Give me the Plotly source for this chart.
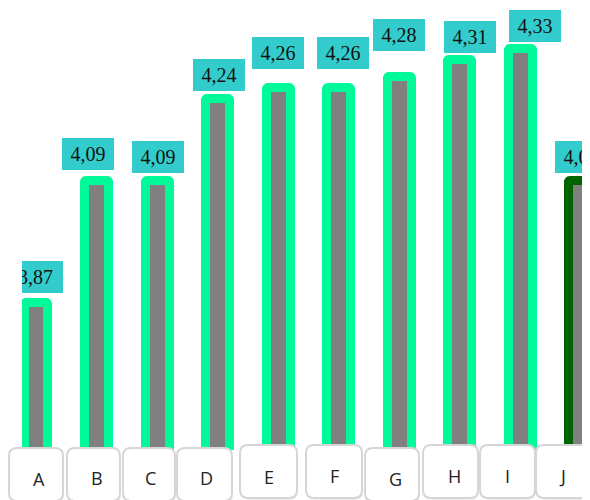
import plotly.graph_objects as go

# ---- data ----
categories = ["A", "B", "C", "D", "E", "F", "G", "H", "I", "J"]
values = [3.87, 4.09, 4.09, 4.24, 4.26, 4.26, 4.28, 4.31, 4.33, 4.09]

# ---- styles ----
W, H = 590, 500
OFF = 8                     # page body margin compensation
PLOT_L, PLOT_T, PLOT_B = 22, 8, 450   # plot area in reference pixels
ML = PLOT_L - OFF
MT = PLOT_T - OFF
PH = PLOT_B - PLOT_T
MB = H - MT - PH
PW = W - ML
border_colors = ["#00fa9a"] * 9 + ["#006400"]
# value label offsets (px): horizontal shift and gap above bar
label_dx = [6, -9.5, 0.5, 0.5, -0.5, 3.5, -0.5, 10, 14, 0]
label_gap = [5, 7, 4, 3, 14, 14, 21, 3, 3, 4]
label_w = [41, 52, 52, 52, 52, 52, 52, 52, 52, 52]
# category boxes (reference px): left, right, top
cat_boxes = [(9, 63, 448), (67, 120, 448), (123, 175, 448), (177, 232, 448),
             (240, 297, 445), (306, 362, 445), (365, 419, 448), (423, 478, 445),
             (480, 535, 445), (536, 589, 445)]
letter_dx = [2, -0.5, -7, -11.5, -10, -5, -4.5, -5.5, -13.5, -19]
letter_y = [478.5, 478, 478, 478, 477, 476, 478.5, 476, 476, 476]

PX_PER_CAT = 60.55
FIRST_CENTER = 36.5
x0 = -(FIRST_CENTER - PLOT_L) / PX_PER_CAT
x1 = x0 + PW / PX_PER_CAT
PX_PER_UNIT = 551.0
y_top_val = 4.419 - PLOT_T / PX_PER_UNIT
y_bot_val = 4.419 - PLOT_B / PX_PER_UNIT


def fx(px):
    return (px - PLOT_L) / PW


def fy(py):
    return (PLOT_B - py) / PH


def rounded(l, r, t, b, rad):
    pts = [
        f"M{fx(l + rad)},{fy(t)}", f"L{fx(r - rad)},{fy(t)}",
        f"Q{fx(r)},{fy(t)} {fx(r)},{fy(t + rad)}", f"L{fx(r)},{fy(b - rad)}",
        f"Q{fx(r)},{fy(b)} {fx(r - rad)},{fy(b)}", f"L{fx(l + rad)},{fy(b)}",
        f"Q{fx(l)},{fy(b)} {fx(l)},{fy(b - rad)}", f"L{fx(l)},{fy(t + rad)}",
        f"Q{fx(l)},{fy(t)} {fx(l + rad)},{fy(t)}", "Z",
    ]
    return " ".join(pts)


fig = go.Figure()
fig.add_trace(go.Bar(
    x=categories, y=values, width=0.396,
    marker=dict(color="#808080", line=dict(color=border_colors, width=9),
                cornerradius=2),
    hoverinfo="skip",
))

shapes = []
for (l, r, t) in cat_boxes:
    shapes.append(dict(type="path", xref="paper", yref="paper",
                       path=rounded(l + 1, r + 1, t + 1.5, t + 55, 8),
                       fillcolor="rgba(0,0,0,0.06)", line=dict(width=0), layer="above"))
    shapes.append(dict(type="path", xref="paper", yref="paper",
                       path=rounded(l, r, t, t + 53, 8),
                       fillcolor="#ffffff", line=dict(color="#d6d6d6", width=2),
                       layer="above"))

annotations = []
for i, (c, v) in enumerate(zip(categories, values)):
    txt = f"{v:.2f}".replace(".", ",")
    if i == 0:
        txt = txt + "\u00a0\u00a0"
    annotations.append(dict(
        x=c, y=v, xref="x", yref="y", text=txt, showarrow=False,
        xanchor="center", yanchor="bottom", xshift=label_dx[i],
        yshift=4.5 + label_gap[i], width=label_w[i], height=32,
        align="right" if i == 0 else "center",
        bgcolor="#33cccc", borderpad=0, borderwidth=0,
        font=dict(family="Liberation Serif", size=20, color="#111111"),
    ))
    annotations.append(dict(
        x=c, y=fy(letter_y[i]), xref="x", yref="paper", text=c, showarrow=False,
        xanchor="center", yanchor="middle", xshift=letter_dx[i],
        font=dict(family="Open Sans", size=18, color="#222222"),
    ))

fig.update_layout(
    width=W, height=H,
    margin=dict(l=ML, r=0, t=MT, b=MB, pad=0),
    paper_bgcolor="#ffffff", plot_bgcolor="#ffffff",
    showlegend=False,
    xaxis=dict(type="category", range=[x0, x1], showticklabels=False,
               showgrid=False, zeroline=False, showline=False, ticks=""),
    yaxis=dict(range=[y_bot_val, y_top_val], showticklabels=False, showgrid=False,
               zeroline=False, showline=False, ticks=""),
    shapes=shapes, annotations=annotations,
    bargap=0,
)

fig.write_html("out.html")
